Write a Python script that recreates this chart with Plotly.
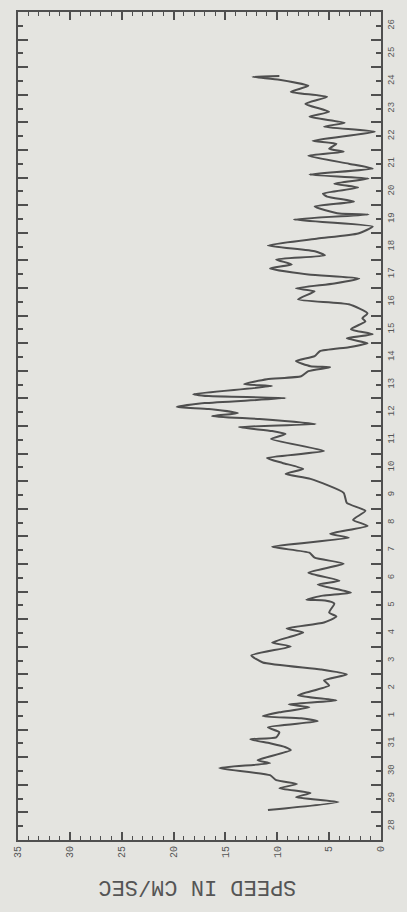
import plotly.graph_objects as go

# Current speed record, 28 March - 26 April.
# Time is in hours from 00:00 on 28 March; speed in cm/s.
hours = [
    26.0, 33.0, 37.3, 40.8, 45.1, 48.6, 52.0, 56.4, 62.5, 66.8, 69.4, 78.1, 80.7,
    84.1, 87.6, 89.3, 93.7, 98.0, 103.2, 105.8, 107.6, 111.0, 115.4, 118.0, 121.4,
    125.8, 134.4, 138.8, 144.0, 148.3, 154.4, 160.5, 168.3, 171.7, 180.4, 183.9,
    189.1, 194.3, 197.8, 205.6, 208.2, 209.0, 212.5, 215.1, 222.1, 225.5, 232.5,
    240.3, 245.5, 249.8, 255.0, 262.8, 266.3, 273.2, 278.4, 286.2, 293.2, 301.9,
    314.0, 318.3, 322.7, 327.9, 332.2, 338.3, 348.7, 353.0, 355.6, 359.1, 361.7,
    366.0, 368.6, 371.2, 374.7, 376.5, 379.9, 384.3, 386.0, 387.7, 394.7, 396.4,
    400.7, 403.3, 407.7, 411.1, 412.0, 416.4, 420.7, 425.0, 428.5, 432.0, 436.3,
    439.8, 444.1, 451.0, 453.7, 458.0, 465.8, 470.1, 477.1, 479.7, 484.0, 488.3,
    491.8, 497.0, 500.5, 504.8, 508.3, 511.8, 517.0, 523.0, 527.4, 533.5, 539.5,
    543.9, 544.7, 550.8, 555.1, 559.5, 562.1, 567.3, 570.7, 575.1, 578.6, 583.8,
    588.1, 595.0, 598.5, 601.1, 605.4, 608.0, 615.9, 620.2, 623.7, 628.9, 633.2,
    640.1, 646.2, 650.6, 655.8, 661.0, 663.6, 664.4,
]
speed = [
    10.9, 4.1, 8.2, 6.8, 9.8, 8.1, 10.1, 10.7, 15.6, 10.7, 11.9, 8.7, 9.2,
    10.7, 12.6, 10.1, 9.8, 10.9, 6.1, 7.7, 11.4, 9.8, 6.9, 8.9, 4.3,
    8.0, 5.0, 5.5, 3.3, 5.8, 11.4, 12.5, 8.7, 10.5, 7.5, 9.1,
    5.5, 4.3, 5.0, 4.5, 5.4, 7.2, 5.6, 2.9, 6.1, 4.0, 7.0,
    3.6, 6.4, 6.9, 10.5, 3.1, 4.9, 1.3, 2.7, 1.5, 3.3, 3.6,
    6.8, 9.2, 7.5, 9.5, 11.0, 5.5, 10.6, 9.2, 10.5, 13.7, 6.3,
    11.7, 16.3, 13.8, 16.6, 19.7, 17.0, 9.2, 16.6, 18.1, 10.5, 13.2,
    11.0, 7.7, 7.0, 4.9, 6.8, 8.2, 6.4, 5.9, 3.1, 1.3, 3.3,
    0.8, 2.9, 1.5, 1.8, 1.3, 3.1, 8.0, 6.4, 8.2, 4.5, 2.1,
    7.0, 10.7, 8.6, 10.1, 5.4, 6.3, 10.9, 6.1, 2.2, 0.8, 8.4,
    1.2, 4.0, 6.4, 2.6, 5.2, 5.6, 2.2, 4.5, 1.2, 6.9, 0.8,
    3.1, 7.0, 3.6, 5.0, 4.3, 6.6, 0.6, 5.5, 3.5, 6.9, 5.0,
    7.3, 5.2, 8.7, 7.0, 9.8, 12.4, 9.8,
]

# Day labels, centred on noon of each day
day_labels = ["28", "29", "30", "31"] + [str(d) for d in range(1, 27)]
speed_ticks = [0, 5, 10, 15, 20, 25, 30, 35]

days = [h / 24.0 for h in hours]

ink = "#4f4f4f"
paper = "#e4e4e0"

fig = go.Figure()
fig.add_trace(go.Scatter(
    x=speed, y=days, mode="lines",
    line=dict(color=ink, width=2, shape="spline", smoothing=0.5),
    hoverinfo="skip", showlegend=False,
))
# carrier trace for the mirrored tick axes (top and left frame edges)
fig.add_trace(go.Scatter(
    x=[None], y=[None], xaxis="x2", yaxis="y2", mode="lines",
    hoverinfo="skip", showlegend=False,
))

speed_axis = dict(
    range=[35, 0], tickvals=speed_ticks,
    ticks="inside", ticklen=8, tickwidth=1.5, tickcolor=ink,
    minor=dict(dtick=1, ticks="inside", ticklen=4, tickwidth=1.2, tickcolor=ink),
    showgrid=False, zeroline=False, fixedrange=True,
)
day_axis = dict(
    range=[0, 30], tickvals=[i + 0.5 for i in range(30)],
    ticks="inside", ticklen=5, tickwidth=1.5, tickcolor=ink,
    minor=dict(tickvals=list(range(31)), ticks="inside", ticklen=10,
               tickwidth=1.5, tickcolor=ink),
    showgrid=False, zeroline=False, fixedrange=True,
)

fig.update_layout(
    width=407, height=912,
    margin=dict(l=18, r=11, t=10, b=72),
    paper_bgcolor=paper, plot_bgcolor=paper,
    font=dict(family="Liberation Mono", color="#555555", size=9),
    xaxis=dict(
        **speed_axis, ticktext=[str(v) for v in speed_ticks], tickangle=-90,
        showline=True, linecolor=ink, linewidth=2, mirror=True,
        tickfont=dict(size=10),
    ),
    yaxis=dict(
        **day_axis, side="right", ticktext=day_labels, tickangle=-90,
        showline=True, linecolor=ink, linewidth=2, mirror=True,
        tickfont=dict(size=9),
    ),
    xaxis2=dict(**speed_axis, overlaying="x", side="top", showticklabels=False,
                showline=False),
    yaxis2=dict(**day_axis, overlaying="y", side="left", showticklabels=False,
                showline=False),
    annotations=[dict(
        text="SPEED IN CM/SEC", textangle=180,
        xref="paper", yref="paper", x=0.495, y=-0.057,
        xanchor="center", yanchor="middle", showarrow=False,
        font=dict(size=22, color="#555555", family="Liberation Mono"),
    )],
)

fig.write_html("out.html")
